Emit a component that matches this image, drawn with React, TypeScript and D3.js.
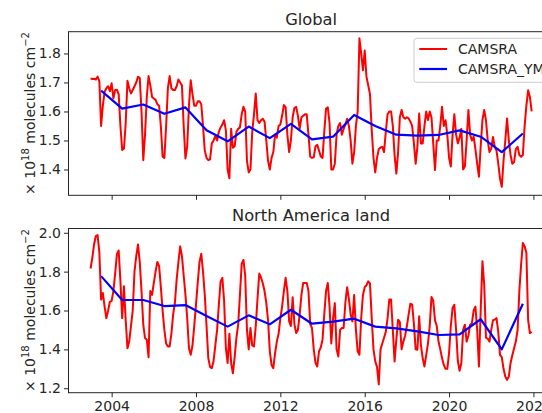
import React, { useEffect, useRef } from "react";
import * as d3 from "d3";

// monthly CO columns, Jan 2003 .. Dec 2023 (one row per year)
const startYear = 2003;
const globalMonthly = [
  1.714, 1.712, 1.713, 1.71, 1.72, 1.705, 1.55, 1.62, 1.668, 1.68, 1.687, 1.67,
  1.697, 1.645, 1.674, 1.675, 1.66, 1.55, 1.467, 1.472, 1.56, 1.706, 1.68, 1.662,
  1.674, 1.687, 1.7, 1.72, 1.715, 1.6, 1.432, 1.52, 1.65, 1.722, 1.69, 1.65,
  1.645, 1.64, 1.625, 1.62, 1.55, 1.444, 1.44, 1.55, 1.68, 1.722, 1.68, 1.674,
  1.674, 1.687, 1.71, 1.7, 1.69, 1.55, 1.438, 1.48, 1.62, 1.708, 1.66, 1.62,
  1.62, 1.635, 1.635, 1.625, 1.55, 1.465, 1.44, 1.432, 1.435, 1.49, 1.5, 1.515,
  1.5, 1.53, 1.545, 1.555, 1.57, 1.535, 1.4, 1.37, 1.54, 1.475, 1.48, 1.53,
  1.54, 1.545, 1.59, 1.616, 1.6, 1.43, 1.39, 1.4, 1.53, 1.59, 1.662, 1.57,
  1.56, 1.57, 1.575, 1.565, 1.5, 1.43, 1.4, 1.44, 1.46, 1.52, 1.51, 1.55,
  1.555, 1.585, 1.622, 1.615, 1.52, 1.46, 1.5, 1.58, 1.612, 1.616, 1.585, 1.54,
  1.58, 1.585, 1.59, 1.59, 1.52, 1.444, 1.44, 1.442, 1.48, 1.485, 1.465, 1.445,
  1.44, 1.53, 1.61, 1.614, 1.56, 1.4, 1.4, 1.42, 1.52, 1.55, 1.56, 1.52,
  1.54, 1.555, 1.575, 1.55, 1.5, 1.42, 1.46, 1.55, 1.6, 1.852, 1.8, 1.742,
  1.81, 1.72, 1.69, 1.66, 1.536, 1.44, 1.39, 1.44, 1.47, 1.476, 1.478, 1.46,
  1.53, 1.59, 1.6, 1.6, 1.55, 1.45, 1.386, 1.46, 1.58, 1.605, 1.58, 1.575,
  1.58, 1.576, 1.565, 1.55, 1.49, 1.42, 1.48, 1.593, 1.49, 1.49, 1.55, 1.6,
  1.57, 1.6, 1.58, 1.49, 1.398, 1.5, 1.5, 1.55, 1.616, 1.55, 1.57, 1.52,
  1.44, 1.41, 1.52, 1.59, 1.52, 1.49, 1.51, 1.54, 1.4, 1.41, 1.5, 1.605,
  1.52, 1.5, 1.513, 1.47, 1.42, 1.375, 1.48, 1.57, 1.605, 1.57, 1.5, 1.46,
  1.472, 1.512, 1.478, 1.465, 1.42, 1.369, 1.34, 1.43, 1.5, 1.576, 1.5, 1.45,
  1.42, 1.425, 1.47, 1.478, 1.45, 1.444, 1.45, 1.55, 1.62, 1.673, 1.65, 1.6,
];
const naMonthly = [
  1.816, 1.87, 1.94, 1.983, 1.988, 1.9, 1.656, 1.69, 1.62, 1.56, 1.6, 1.645,
  1.65, 1.7, 1.79, 1.89, 1.909, 1.75, 1.561, 1.725, 1.55, 1.406, 1.44, 1.52,
  1.6, 1.8, 1.88, 1.94, 1.85, 1.7, 1.527, 1.458, 1.45, 1.36, 1.7, 1.68,
  1.742, 1.8, 1.85, 1.83, 1.72, 1.6, 1.5, 1.43, 1.415, 1.415, 1.48, 1.58,
  1.64, 1.76, 1.85, 1.93, 1.88, 1.78, 1.68, 1.56, 1.406, 1.372, 1.42, 1.52,
  1.63, 1.745, 1.85, 1.892, 1.8, 1.68, 1.52, 1.355, 1.31, 1.303, 1.34, 1.42,
  1.5, 1.63, 1.75, 1.768, 1.65, 1.406, 1.33, 1.48, 1.33, 1.277, 1.36, 1.46,
  1.527, 1.68, 1.84, 1.86, 1.78, 1.5, 1.4, 1.51, 1.42, 1.415, 1.52, 1.66,
  1.79, 1.77, 1.74, 1.7, 1.64, 1.55, 1.39, 1.32, 1.303, 1.38, 1.44, 1.48,
  1.56, 1.62, 1.7, 1.768, 1.7, 1.544, 1.52, 1.668, 1.53, 1.484, 1.5, 1.58,
  1.68, 1.742, 1.742, 1.742, 1.7, 1.53, 1.51, 1.4, 1.33, 1.312, 1.39, 1.41,
  1.45, 1.58, 1.7, 1.742, 1.62, 1.43, 1.56, 1.638, 1.4, 1.363, 1.5, 1.51,
  1.51, 1.64, 1.72, 1.66, 1.58, 1.544, 1.68, 1.5, 1.39, 1.372, 1.56, 1.68,
  1.72, 1.73, 1.75, 1.74, 1.56, 1.4, 1.338, 1.31, 1.22, 1.4, 1.43, 1.46,
  1.49, 1.56, 1.656, 1.656, 1.5, 1.338, 1.45, 1.553, 1.54, 1.4, 1.44, 1.47,
  1.52, 1.58, 1.635, 1.63, 1.53, 1.4, 1.398, 1.57, 1.42, 1.355, 1.312, 1.37,
  1.43, 1.52, 1.67, 1.65, 1.55, 1.52, 1.44, 1.4, 1.355, 1.32, 1.3, 1.3,
  1.38, 1.52, 1.613, 1.63, 1.5, 1.34, 1.29, 1.33, 1.5, 1.527, 1.44, 1.47,
  1.527, 1.535, 1.6, 1.62, 1.5, 1.312, 1.6, 1.854, 1.733, 1.46, 1.455, 1.44,
  1.5, 1.55, 1.553, 1.561, 1.49, 1.372, 1.36, 1.3, 1.26, 1.243, 1.26, 1.33,
  1.37, 1.406, 1.44, 1.5, 1.7, 1.837, 1.948, 1.93, 1.897, 1.55, 1.484, 1.49,
];

// yearly means, plotted mid-year
const annualYears = [
  2003, 2004, 2005, 2006, 2007, 2008, 2009, 2010, 2011, 2012, 2013, 2014, 2015,
  2016, 2017, 2018, 2019, 2020, 2021, 2022, 2023,
];
const globalAnnual = [
  1.672, 1.61, 1.624, 1.592, 1.614, 1.535, 1.497, 1.548, 1.508, 1.557, 1.504,
  1.513, 1.588, 1.55, 1.52, 1.517, 1.519, 1.535, 1.513, 1.46, 1.524,
];
const naAnnual = [
  1.777, 1.654, 1.654, 1.623, 1.628, 1.572, 1.517, 1.575, 1.529, 1.604, 1.532,
  1.543, 1.558, 1.517, 1.508, 1.493, 1.474, 1.477, 1.555, 1.4, 1.635,
];

const xTicks = [2004, 2008, 2012, 2016, 2020, 2024];
const globalTicks = [1.4, 1.5, 1.6, 1.7, 1.8];
const naTicks = [1.2, 1.4, 1.6, 1.8, 2.0];
const seriesNames = ["CAMSRA", "CAMSRA_YM"];

export default function App() {
  const ref = useRef<SVGSVGElement>(null);

  useEffect(() => {
    draw();
  }, []);

  let draw = () => {
    const svg = d3.select(ref.current);
    svg.selectAll("*").remove();

    const font = "DejaVu Sans, sans-serif";
    const ink = "#262626";
    const left = 68.5;
    const right = 553.7;

    const x = d3.scaleLinear().domain([2001.954, 2024.962]).range([left, right]);

    const panels = [
      {
        title: "Global",
        monthly: globalMonthly,
        annual: globalAnnual,
        ticks: globalTicks,
        domain: [1.311, 1.875],
        top: 31.7,
        bottom: 195.3,
        titleY: 25,
        xLabels: false,
        legend: true,
      },
      {
        title: "North America land",
        monthly: naMonthly,
        annual: naAnnual,
        ticks: naTicks,
        domain: [1.177, 2.022],
        top: 228.5,
        bottom: 392.7,
        titleY: 221.4,
        xLabels: true,
        legend: false,
      },
    ];

    panels.forEach((p) => {
      const y = d3.scaleLinear().domain(p.domain).range([p.bottom, p.top]);
      const g = svg.append("g");

      const line = d3
        .line<number>()
        .x((d, i) => x(startYear + i / 12))
        .y((d) => y(d));
      g.append("path")
        .datum(p.monthly)
        .attr("d", line)
        .attr("fill", "none")
        .attr("stroke", "#ff0000")
        .attr("stroke-width", 2)
        .attr("stroke-linejoin", "round");

      const annualLine = d3
        .line<number>()
        .x((d, i) => x(annualYears[i] + 0.5))
        .y((d) => y(d));
      g.append("path")
        .datum(p.annual)
        .attr("d", annualLine)
        .attr("fill", "none")
        .attr("stroke", "#0000ff")
        .attr("stroke-width", 2.2)
        .attr("stroke-linejoin", "round");

      // spines
      g.append("rect")
        .attr("x", left)
        .attr("y", p.top)
        .attr("width", right - left)
        .attr("height", p.bottom - p.top)
        .attr("fill", "none")
        .attr("stroke", ink)
        .attr("stroke-width", 1);

      const yAxis = g
        .append("g")
        .attr("transform", `translate(${left},0)`)
        .call(
          d3
            .axisLeft(y)
            .tickValues(p.ticks)
            .tickSize(4.5)
            .tickPadding(3)
            .tickFormat(d3.format(".1f"))
        );
      yAxis.select(".domain").remove();

      const xAxis = g
        .append("g")
        .attr("transform", `translate(0,${p.bottom})`)
        .call(
          d3
            .axisBottom(x)
            .tickValues(xTicks)
            .tickSize(4.5)
            .tickPadding(4)
            .tickFormat((d) => (p.xLabels ? String(d) : ""))
        );
      xAxis.select(".domain").remove();

      [yAxis, xAxis].forEach((a) => {
        a.selectAll("line").attr("stroke", ink).attr("stroke-width", 1);
        a.selectAll("text")
          .attr("fill", ink)
          .style("font-family", font)
          .style("font-size", "14px");
      });

      g.append("text")
        .attr("x", (left + right) / 2)
        .attr("y", p.titleY)
        .attr("text-anchor", "middle")
        .attr("fill", ink)
        .style("font-family", font)
        .style("font-size", "16.3px")
        .text(p.title);

      const label = g
        .append("text")
        .attr("transform", `translate(35,${(p.top + p.bottom) / 2}) rotate(-90)`)
        .attr("text-anchor", "middle")
        .attr("fill", ink)
        .style("font-family", font)
        .style("font-size", "14px");
      label.append("tspan").text("× 10");
      label.append("tspan").attr("dy", -5.8).style("font-size", "10px").text("18");
      label.append("tspan").attr("dy", 5.8).text(" molecules cm");
      label.append("tspan").attr("dy", -5.8).style("font-size", "10px").text("−2");

      if (p.legend) {
        const lg = svg.append("g");
        lg.append("rect")
          .attr("x", 414)
          .attr("y", 38.3)
          .attr("width", 134)
          .attr("height", 44)
          .attr("rx", 3)
          .attr("fill", "white")
          .attr("fill-opacity", 0.8)
          .attr("stroke", "#cccccc")
          .attr("stroke-width", 1);
        const colors = ["#ff0000", "#0000ff"];
        seriesNames.forEach((name, i) => {
          const ly = 49 + i * 20;
          lg.append("line")
            .attr("x1", 419.3)
            .attr("x2", 447)
            .attr("y1", ly)
            .attr("y2", ly)
            .attr("stroke", colors[i])
            .attr("stroke-width", i === 0 ? 2 : 2.2);
          lg.append("text")
            .attr("x", 458)
            .attr("y", ly)
            .attr("dy", "0.35em")
            .attr("fill", ink)
            .style("font-family", font)
            .style("font-size", "14px")
            .text(name);
        });
      }
    });
  };

  return (
    <svg
      ref={ref}
      width={542}
      height={413}
      style={{ position: "absolute", left: 0, top: 0, background: "white" }}
    ></svg>
  );
}
